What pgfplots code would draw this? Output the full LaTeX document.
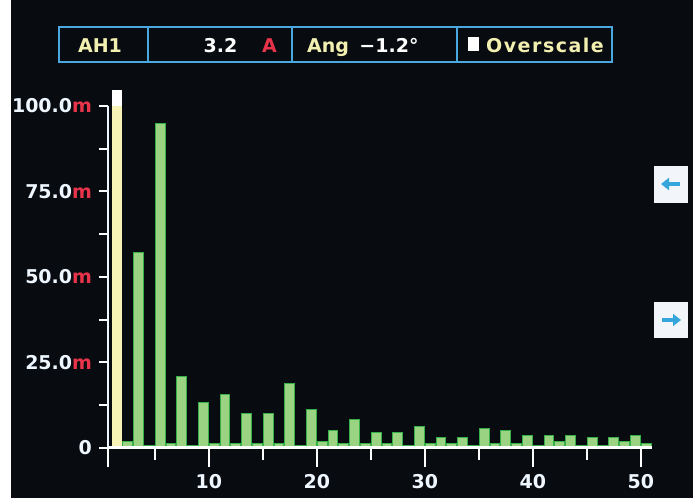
\documentclass[border=0pt]{standalone}
\usepackage{pgfplots}
\pgfplotsset{compat=1.18}
\usepackage{fontspec}
\setmainfont{DejaVu Sans}
\usetikzlibrary{arrows.meta}
\definecolor{bg}{HTML}{080B10}
\definecolor{hdr}{HTML}{4AA8E0}
\definecolor{hyel}{HTML}{F2F0B0}
\definecolor{mred}{HTML}{E8344A}
\definecolor{lab}{HTML}{EEF6FF}
\definecolor{barfill}{HTML}{9AD482}
\definecolor{barline}{HTML}{35B048}
\definecolor{ovy}{HTML}{F7F2B5}
\definecolor{btn}{HTML}{F2F6FA}
\definecolor{arr}{HTML}{35A6DC}
\newcommand\hfont{\fontsize{9.5}{10}\selectfont\bfseries}
\pgfplotstableread{
h v
2 2.0
3 57.3
4 0.7
5 95.0
6 1.4
7 20.8
8 0.7
9 13.3
10 1.4
11 15.7
12 1.4
13 10.1
14 1.2
15 10.1
16 1.2
17 18.9
18 0.7
19 11.3
20 2.0
21 5.1
22 1.2
23 8.2
24 1.2
25 4.4
26 1.2
27 4.4
28 0.7
29 6.2
30 1.2
31 3.1
32 1.2
33 3.1
34 0.6
35 5.7
36 1.2
37 5.1
38 1.2
39 3.8
40 0.7
41 3.8
42 2.0
43 3.8
44 0.7
45 3.2
46 0.7
47 3.2
48 2.0
49 3.8
50 1.2
}\harm
\begin{document}
\begin{tikzpicture}[x=0.5pt,y=0.5pt]
\path[use as bounding box] (0,0) rectangle (696,498);
\fill[bg] (0,0) rectangle (696,498);
\fill[white] (0,0) rectangle (11,498);
\fill[white] (693,0) rectangle (696,498);
% header
\draw[hdr, line width=1pt] (59,471) rectangle (612,436);
\draw[hdr, line width=1pt] (148,471)--(148,436) (292,471)--(292,436) (457,471)--(457,436);
\node[text=hyel, font=\hfont, anchor=base] at (100,445) {AH1};
\node[text=white, font=\hfont, anchor=base] at (220.5,445) {3.2};
\node[text=mred, font=\hfont, anchor=base] at (269.5,445) {A};
\node[text=hyel, font=\hfont, anchor=base] at (328,445) {Ang};
\node[text=white, font=\hfont, anchor=base] at (389,445) {−1.2°};
\fill[white] (468,461) rectangle (479,447);
\node[text=hyel, font=\hfont, anchor=base] at (545,445) {\addfontfeature{LetterSpace=8}Overscale};
% buttons
\fill[btn] (654,332) rectangle (688,295);
\fill[btn] (654,196) rectangle (688,160);
\draw[arr, line width=2pt, -{Triangle[width=6pt,length=4pt]}] (680,314)--(661,314);
\draw[arr, line width=2pt, -{Triangle[width=6pt,length=4pt]}] (662,178)--(681,178);
% x axis + bars
\begin{axis}[at={(54pt,25pt)}, anchor=south west, scale only axis,
  width=272pt, height=171pt,
  xmin=0.167, xmax=50.54, ymin=0, ymax=100, clip=false,
  axis x line=bottom, axis y line=none, axis on top,
  axis line style={-, white, line width=1.5pt},
  tick align=outside,
  major tick length=9.5pt, minor tick length=6pt,
  xtick={0.167,9.5,19.5,29.5,39.5,49.5},
  xticklabels={,10,20,30,40,50},
  minor xtick={4.5,14.5,24.5,34.5,44.5},
  xtick style={white, line width=1pt},
  xticklabel style={font=\hfont, text=lab},
  ]
\addplot[ybar, bar width=4.9pt, bar shift=0pt, fill=white, draw=none] coordinates {(1,104.7)};
\addplot[ybar, bar width=4.9pt, bar shift=0pt, fill=ovy, draw=none] coordinates {(1,100)};
\addplot[ybar, bar width=4.9pt, bar shift=0pt, fill=barfill, draw=barline, line width=0.5pt] table[x=h,y=v] {\harm};
\end{axis}
% y axis
\begin{axis}[at={(54pt,25pt)}, anchor=south west, scale only axis,
  width=272pt, height=171pt,
  xmin=0.167, xmax=50.54, ymin=0, ymax=100,
  axis x line=none, axis y line=left,
  axis line style={-, lab, line width=1.2pt},
  tick align=outside,
  major tick length=4.5pt, minor tick length=4.5pt,
  ytick={0,25,50,75,100},
  minor ytick={12.5,37.5,62.5,87.5},
  yticklabels={0\hspace{6.5pt}, 25.0\textcolor{mred}{m}, 50.0\textcolor{mred}{m}, 75.0\textcolor{mred}{m}, 100.0\textcolor{mred}{m}},
  ytick style={white, line width=1pt},
  yticklabel style={font=\hfont, text=lab},
  ]
\addplot[draw=none] coordinates {(1,0)};
\end{axis}
\end{tikzpicture}
\end{document}
